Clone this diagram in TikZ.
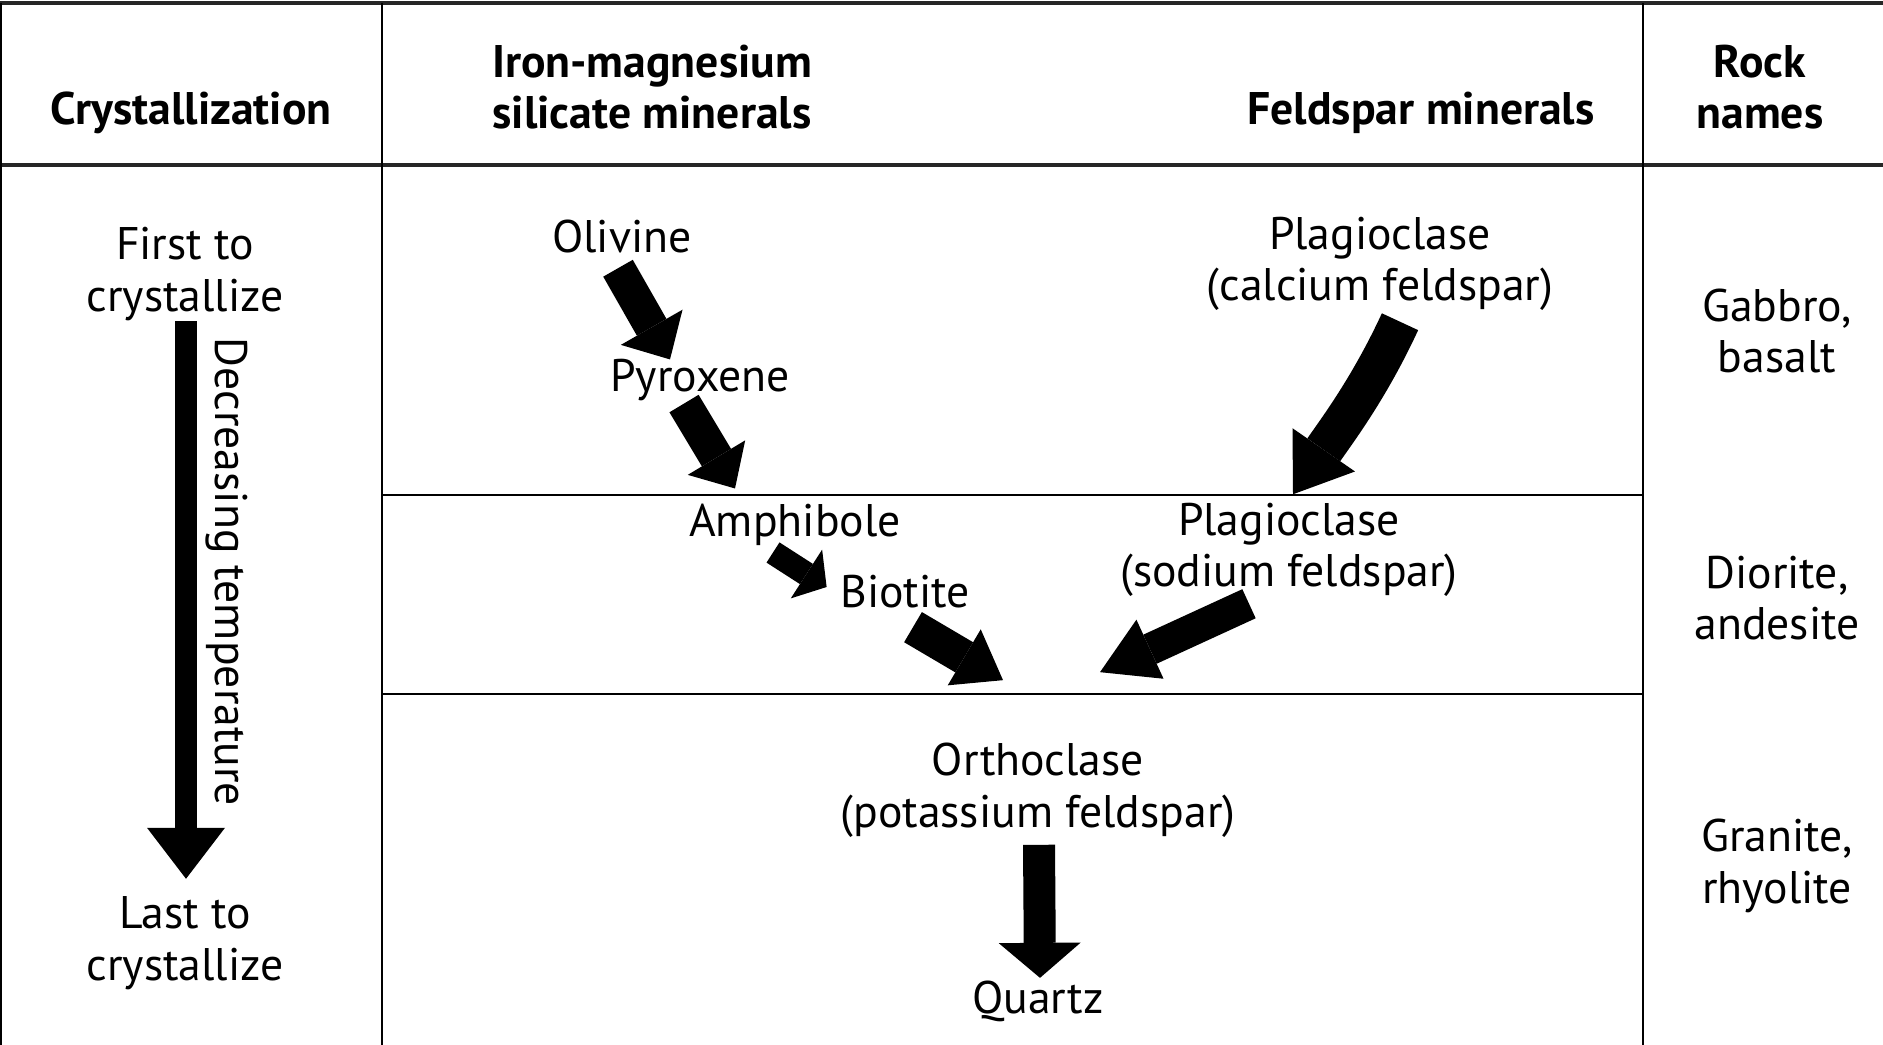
\documentclass[tikz,border=0pt]{standalone}
\usepackage{fontspec}
\setmainfont{PT Sans}
\usetikzlibrary{arrows.meta,calc}

\begin{document}
\begin{tikzpicture}[
  x=0.1mm, y=-0.1mm,
  lbl/.style={align=center,inner sep=0pt,font=\fontsize{13}{14.7}\selectfont},
  hdr/.style={lbl,font=\bfseries\fontsize{13}{14.7}\selectfont},
  rule/.style={line width=0.2mm},
  heavyrule/.style={line width=0.4mm,black!85},
  flow/.style n args={3}{line width=#1,-{Triangle[length=#2,width=#3,line width=0pt]}}
]
  \useasboundingbox (0,0) rectangle (1883,1045);

  % table frame
  \draw[heavyrule] (0,3) -- (1883,3);
  \draw[heavyrule] (0,165) -- (1883,165);
  \draw[rule] (1,3) -- (1,1045);
  \draw[rule] (382,3) -- (382,1045);
  \draw[rule] (1643,3) -- (1643,1045);
  \draw[rule] (382,495) -- (1643,495);
  \draw[rule] (382,694) -- (1643,694);

  % headers
  \node[hdr] (hcryst) at (191,113) {Crystallization};
  \node[hdr] (hiron) at (652,87) {Iron-magnesium\\silicate minerals};
  \node[hdr] (hfeld) at (1421,113) {Feldspar minerals};
  \node[hdr] (hrock) at (1760,87) {Rock\\names};

  % crystallization column
  \node[lbl] (first) at (185,274) {First to\\crystallize};
  \node[lbl] (last) at (185,943) {Last to\\crystallize};
  \draw[flow={2.2mm}{5.1mm}{7.8mm}] ($(first.south)+(1,0)$) -- ($(last.north)+(1,-17)$);
  \node[lbl,rotate=-90] (temp) at (227,572) {Decreasing temperature};

  % minerals
  \node[lbl] (olivine) at (622,237) {Olivine};
  \node[lbl] (pyroxene) at (700,380) {Pyroxene};
  \node[lbl] (amphibole) at (795,525) {Amphibole};
  \node[lbl] (biotite) at (905,592) {Biotite};
  \node[lbl] (plagca) at (1380,264) {Plagioclase\\(calcium feldspar)};
  \node[lbl] (plagna) at (1289,550) {Plagioclase\\(sodium feldspar)};
  \node[lbl] (orth) at (1038,790) {Orthoclase\\(potassium feldspar)};
  \node[lbl] (quartz) at (1038,1001) {Quartz};

  \draw[flow={3.4mm}{3.7mm}{7.1mm}] ($(olivine.south)+(-4,14)$) -- ($(pyroxene.north)+(-30,1)$);
  \draw[flow={3.4mm}{3.6mm}{6.7mm}] ($(pyroxene.south)+(-16,2)$) -- ($(amphibole.north)+(-60,-15)$);
  \draw[flow={2.4mm}{2.4mm}{5.8mm}] ($(amphibole.south)+(-22,6)$) -- ($(biotite.west)+(-13,-5)$);
  \draw[flow={3.5mm}{4.5mm}{6.5mm}] ($(biotite.south)+(8,18)$) -- ($(orth.north)+(-35,-62)$);
  \draw[flow={3.2mm}{5.5mm}{6.5mm}] ($(plagna.south)+(-40,6)$) -- ($(orth.north)+(62,-70)$);
  \draw[flow={3.2mm}{3.5mm}{8.2mm}] ($(orth.south)+(1,7)$) -- ($(quartz.north)+(2,-2)$);
  \draw[flow={4mm}{5.4mm}{7.6mm}] ($(plagca.south)+(20,10)$)
    .. controls +(-30,65) and +(45,-65) .. ($(plagna.north)+(4,-8)$);

  % rock names
  \node[lbl] (gabbro) at (1777,331) {Gabbro,\\basalt};
  \node[lbl] (diorite) at (1777,598) {Diorite,\\andesite};
  \node[lbl] (granite) at (1777,866) {Granite,\\rhyolite};
\end{tikzpicture}
\end{document}
